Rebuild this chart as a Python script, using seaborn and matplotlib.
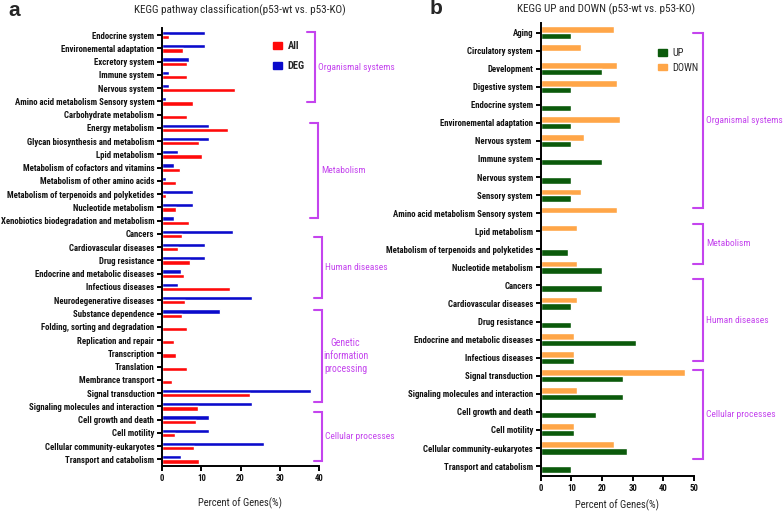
import matplotlib
matplotlib.use("Agg")
import matplotlib.pyplot as plt
import matplotlib.transforms as mtransforms
from matplotlib.patches import Patch
import pandas as pd
import seaborn as sns

# ---- data: panel a ----
cats_a = [
    "Endocrine system", "Environemental adaptation", "Excretory system", "Immune system",
    "Nervous system", "Amino acid metabolism Sensory system", "Carbohydrate metabolism",
    "Energy metabolism", "Glycan biosynthesis and metabolism", "Lpid metabolism",
    "Metabolism of cofactors and vitamins", "Metabolism of other amino acids",
    "Metabolism of terpenoids and polyketides", "Nucleotide metabolism",
    "Xenobiotics biodegradation and metabolism", "Cancers", "Cardiovascular diseases",
    "Drug resistance", "Endocrine and metabolic diseases", "Infectious diseases",
    "Neurodegenerative diseases", "Substance dependence", "Folding, sorting and degradation",
    "Replication and repair", "Transcription", "Translation", "Membrance transport",
    "Signal transduction", "Signaling molecules and interaction", "Cell growth and death",
    "Cell motility", "Cellular community-eukaryotes", "Transport and catabolism",
]
deg_a = [10.9, 10.9, 6.9, 1.9, 1.9, 0.9, 0, 11.9, 11.9, 4.0, 3.0, 0.9, 8.0, 8.0, 3.0,
         18.0, 10.9, 10.9, 4.9, 4.0, 23.0, 14.9, 0, 0, 0, 0, 0, 38.0, 23.0, 11.9, 11.9, 26.0, 4.9]
all_a = [1.9, 5.3, 6.4, 6.4, 18.5, 7.9, 6.4, 16.9, 9.5, 10.3, 4.5, 3.5, 1.1, 3.5, 6.8,
         5.1, 4.1, 7.1, 5.6, 17.4, 5.8, 5.2, 6.4, 3.1, 3.6, 6.4, 2.5, 22.3, 9.1, 8.6, 3.4, 8.1, 9.5]

# ---- data: panel b ----
cats_b = [
    "Aging", "Circulatory system", "Development", "Digestive system", "Endocrine system",
    "Environemental adaptation", "Nervous system ", "Immune system", "Nervous system",
    "Sensory system", "Amino acid metabolism Sensory system", "Lpid metabolism",
    "Metabolism of terpenoids and polyketides", "Nucleotide metabolism", "Cancers",
    "Cardiovascular diseases", "Drug resistance", "Endocrine and metabolic diseases",
    "Infectious diseases", "Signal transduction", "Signaling molecules and interaction",
    "Cell growth and death", "Cell motility", "Cellular community-eukaryotes",
    "Transport and catabolism",
]
down_b = [24, 13, 25, 25, 0, 26, 14, 0, 0, 13, 25, 12, 0, 12, 0, 12, 0, 11, 11, 47, 12, 0, 11, 24, 0]
up_b = [10, 0, 20, 10, 10, 10, 10, 20, 10, 10, 0, 0, 9, 20, 20, 10, 10, 31, 11, 27, 27, 18, 11, 28, 10]

groups_a = ["Organismal systems", "Metabolism", "Human diseases",
            "Genetic\ninformation\nprocessing", "Cellular processes"]
groups_b = ["Organismal systems", "Metabolism", "Human diseases", "Cellular processes"]

# ---- layout (bracket spans in category units, x in axes fraction) ----
spans_a = [(-0.23, 5.06), (6.64, 13.8), (15.2, 19.8), (20.7, 27.7), (28.45, 32.1)]
bx_a = [0.975, 0.994, 1.019, 1.019, 1.019]
spans_b = [(0.0, 9.7), (10.6, 12.8), (13.65, 18.2), (18.7, 23.6)]
bx_b = [1.059] * 4

PURPLE = "#C444EE"
sns.set_theme(style="ticks")
plt.rcParams["font.family"] = ["Roboto Condensed", "Liberation Sans", "DejaVu Sans"]

W, H = 783, 511
fig = plt.figure(figsize=(W / 100, H / 100), dpi=100)


def px(x, y):
    return x / W, 1 - y / H


def style_axis(ax):
    for s in ["top", "right"]:
        ax.spines[s].set_visible(False)
    for s in ["left", "bottom"]:
        ax.spines[s].set_linewidth(1.4)
        ax.spines[s].set_color("black")
    ax.tick_params(axis="both", length=3.5, width=1.4, color="black", pad=2)
    for lab in ax.get_yticklabels() + ax.get_xticklabels():
        lab.set_fontweight("bold")
        lab.set_fontsize(6.3)
        lab.set_color("#111111")


def brackets(ax, names, spans, xs, arm):
    tr = mtransforms.blended_transform_factory(ax.transAxes, ax.transData)
    for name, (y0, y1), x in zip(names, spans, xs):
        ax.plot([x - arm, x, x, x - arm], [y0, y0, y1, y1], color=PURPLE, lw=1.5,
                transform=tr, clip_on=False, solid_joinstyle="miter")
        if "\n" in name:
            ax.text(x + 0.15, (y0 + y1) / 2, name, transform=tr, color=PURPLE,
                    fontsize=7.1, ha="center", va="center", linespacing=1.35)
        else:
            ax.text(x + 0.02, (y0 + y1) / 2, name, transform=tr, color=PURPLE,
                    fontsize=6.8, ha="left", va="center")


# ---- panel a ----
df_a = pd.DataFrame({"cat": cats_a * 2, "val": deg_a + all_a,
                     "set": ["DEG"] * len(cats_a) + ["All"] * len(cats_a)})
l, t = px(162, 28.4)
r, b = px(319, 466)
ax1 = fig.add_axes([l, b, r - l, t - b])
sns.barplot(data=df_a, y="cat", x="val", hue="set", hue_order=["DEG", "All"],
            palette={"DEG": "#0A0ACB", "All": "#FF0A0A"}, width=0.64, orient="h",
            saturation=1, ax=ax1, legend=False)
ax1.set_ylim(len(cats_a) - 0.5, -0.5)
ax1.set_xlim(0, 40)
ax1.set_xticks([0, 10, 20, 30, 40])
ax1.set_ylabel("")
ax1.set_xlabel("Percent of Genes(%)", fontsize=7.6, labelpad=11)
style_axis(ax1)
brackets(ax1, groups_a, spans_a, bx_a, arm=0.05)
ax1.legend(handles=[Patch(color="#FF0A0A", label="All"), Patch(color="#0A0ACB", label="DEG")],
           loc="upper left", bbox_to_anchor=px(273, 41), bbox_transform=fig.transFigure,
           frameon=False, prop={"size": 7.5, "weight": "bold"}, handlelength=0.9,
           handleheight=0.6, handletextpad=0.5, labelspacing=0.95, borderpad=0, borderaxespad=0)

# ---- panel b ----
df_b = pd.DataFrame({"cat": cats_b * 2, "val": down_b + up_b,
                     "set": ["DOWN"] * len(cats_b) + ["UP"] * len(cats_b)})
l, t = px(540.7, 23.5)
r, b = px(694, 476)
ax2 = fig.add_axes([l, b, r - l, t - b])
sns.barplot(data=df_b, y="cat", x="val", hue="set", hue_order=["DOWN", "UP"],
            palette={"DOWN": "#FFA648", "UP": "#0B5A0B"}, width=0.72, orient="h",
            saturation=1, ax=ax2, legend=False)
ax2.set_ylim(len(cats_b) - 0.45, -0.5)
ax2.set_xlim(0, 50)
ax2.set_xticks([0, 10, 20, 30, 40, 50])
ax2.set_ylabel("")
ax2.set_xlabel("Percent of Genes(%)", fontsize=7.6, labelpad=5)
style_axis(ax2)
brackets(ax2, groups_b, spans_b, bx_b, arm=0.065)
ax2.legend(handles=[Patch(color="#0B5A0B", label="UP"), Patch(color="#FFA648", label="DOWN")],
           loc="upper left", bbox_to_anchor=px(658, 48), bbox_transform=fig.transFigure,
           frameon=False, fontsize=7.5, handlelength=0.9, handleheight=0.6,
           handletextpad=0.5, labelspacing=0.45, borderpad=0, borderaxespad=0)

# ---- titles ----
fig.text(*px(8, 10), "a", fontsize=15, fontweight="bold", family="Liberation Sans",
         va="center", ha="left")
fig.text(*px(240, 10), "KEGG pathway classification(p53-wt vs. p53-KO)", fontsize=8.0,
         ha="center", va="center")
fig.text(*px(430, 8), "b", fontsize=15, fontweight="bold", family="Liberation Sans",
         va="center", ha="left")
fig.text(*px(606, 9), "KEGG UP and DOWN (p53-wt vs. p53-KO)", fontsize=8.0,
         ha="center", va="center")

fig.savefig("out.png", dpi=100)
